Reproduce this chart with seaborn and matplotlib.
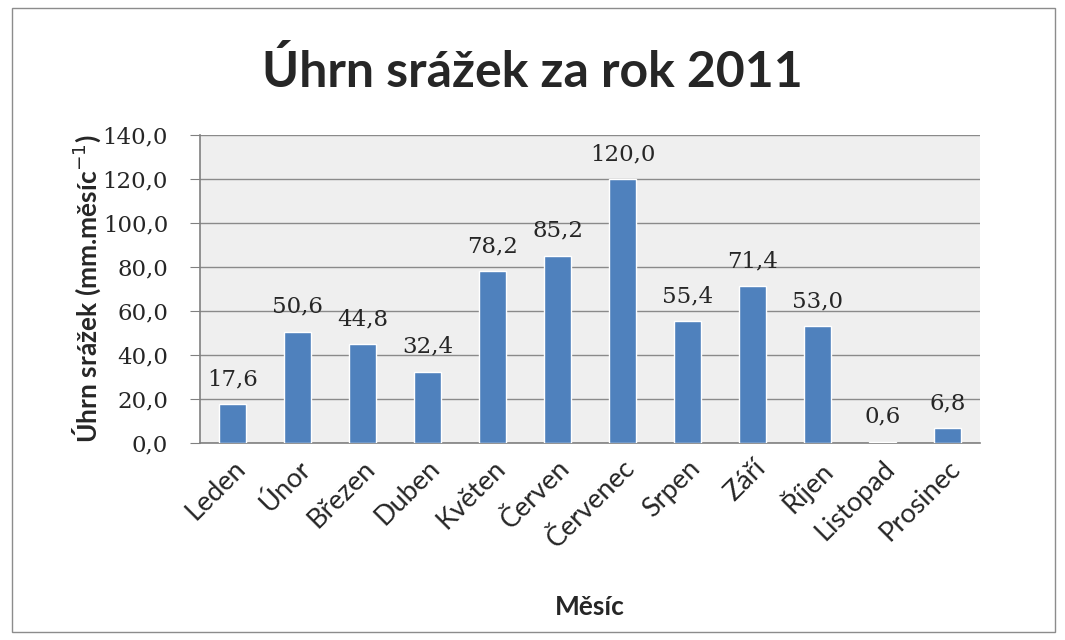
import matplotlib
matplotlib.use("Agg")
import matplotlib.pyplot as plt
import seaborn as sns
import pandas as pd
import numpy as np
from matplotlib.patches import Rectangle

months = ["Leden", "Únor", "Březen", "Duben", "Květen", "Červen", "Červenec",
          "Srpen", "Září", "Říjen", "Listopad", "Prosinec"]
values = [17.6, 50.6, 44.8, 32.4, 78.2, 85.2, 120.0, 55.4, 71.4, 53.0, 0.6, 6.8]
yticks = [0, 20, 40, 60, 80, 100, 120, 140]

sns.set_style("white")
plt.rcParams['font.family'] = ['Lato', 'DejaVu Sans']
SERIF = ['DejaVu Serif', 'Liberation Serif']

df = pd.DataFrame({"Měsíc": months, "Srážky": values})

fig = plt.figure(figsize=(10.65, 6.4), dpi=100)
ax = fig.add_axes([200/1065, 1-443/640, 780/1065, (443-135)/640])
ax.set_facecolor("#efefef")

sns.barplot(data=df, x="Měsíc", y="Srážky", color="#4f81bd", width=0.41,
            saturation=1, ax=ax, zorder=3)

ax.set_ylim(0, 140)
ax.set_xlim(-0.5, len(months) - 0.5)
ax.set_yticks(yticks)
ax.set_yticklabels([f"{v:.1f}".replace(".", ",") for v in yticks],
                   family=SERIF, fontsize=16.5)
ax.yaxis.grid(True, color="#8a8a8a", linewidth=1, zorder=0)
ax.set_axisbelow(True)

ax.set_xticks(range(len(months)))
ax.set_xticklabels(months, rotation=45, ha="right", rotation_mode="anchor",
                   fontsize=19.5)
ax.tick_params(axis="x", which="major", length=0, pad=9)
ax.set_xticks(np.arange(-0.5, len(months), 1), minor=True)
ax.tick_params(axis="x", which="minor", length=6, color="#808080", direction="out")
ax.tick_params(axis="y", which="major", length=7, color="#808080", direction="out", left=True, pad=16)

for s in ["top", "right"]:
    ax.spines[s].set_visible(False)
for s in ["left", "bottom"]:
    ax.spines[s].set_color("#808080")
    ax.spines[s].set_linewidth(1.2)

for i, v in enumerate(values):
    ax.annotate(f"{v:.1f}".replace(".", ","), (i, v), xytext=(0, 10),
                textcoords="offset points", ha="center", va="bottom",
                fontsize=16.5, family=SERIF)

ax.set_xlabel("Měsíc", fontsize=19, fontweight="bold", labelpad=30)
ax.set_ylabel("Úhrn srážek (mm.měsíc$^{-1}$)", fontsize=19, fontweight="bold", labelpad=0)

fig.suptitle("Úhrn srážek za rok 2011", fontsize=36, fontweight="bold", y=0.888, va="center")

fig.patches.append(Rectangle((12/1065, 8/640), 1043/1065, 624/640, transform=fig.transFigure,
                             fill=False, edgecolor="#8c8c8c", linewidth=1))

fig.savefig("out.png", dpi=100, facecolor="white")
